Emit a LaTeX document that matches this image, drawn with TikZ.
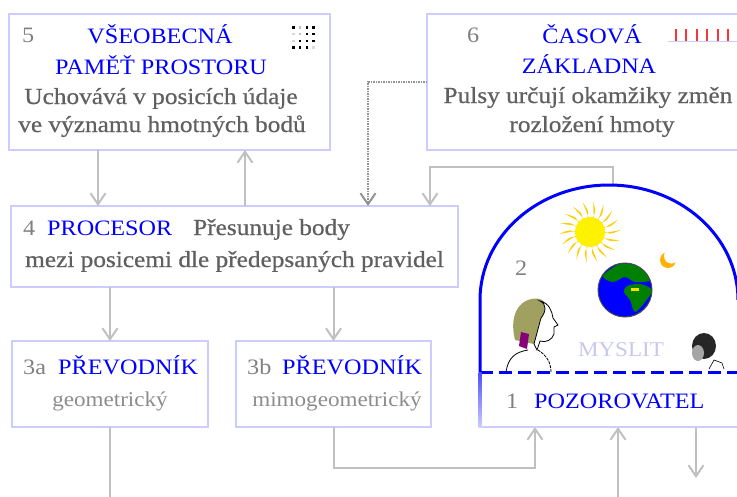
\documentclass[tikz,border=0pt]{standalone}
\usepackage{fontspec}
\setmainfont{Liberation Serif}[FakeStretch=1.1]
\newfontfamily\descfamily{Liberation Serif}[FakeStretch=1.1, FakeBold=0.6]
\usetikzlibrary{calc}
\usetikzlibrary{arrows.meta}
\definecolor{boxline}{HTML}{CCCCFF}
\definecolor{linkgray}{HTML}{C0C0C0}
\definecolor{numgray}{HTML}{808080}
\definecolor{descgray}{HTML}{606060}
\definecolor{subgray}{HTML}{8C8C8C}
\definecolor{thought}{HTML}{C8C8EE}
\definecolor{sunray}{HTML}{FFCC00}
\definecolor{hair}{HTML}{A0A060}
\newcommand\bigfont{\fontsize{22}{24}\selectfont}
\newcommand\descfont{\descfamily\fontsize{23}{25}\selectfont}
\newcommand\subfont{\fontsize{21}{23}\selectfont}

\tikzset{
  box/.style={draw=boxline, line width=2.5pt, anchor=north west, inner sep=0pt, outer sep=0pt},
  numtext/.style={text=numgray, font=\bigfont, inner sep=0pt},
  titletext/.style={text=blue, font=\bigfont, inner sep=0pt},
  desctext/.style={text=descgray, font=\descfont, inner sep=0pt},
  subtext/.style={text=subgray, font=\subfont, inner sep=0pt},
  link/.style={linkgray, line width=2pt, -{Straight Barb[length=11pt,width=15pt]}},
}

\begin{document}
\begin{tikzpicture}[x=1pt,y=-1pt]

\useasboundingbox (0,0) rectangle (737,496);
\clip (0,0) rectangle (737,496);

\node[box, minimum width=321pt, minimum height=136pt] (mem) at (9,14) {};
\node[box, minimum width=340pt, minimum height=136pt] (clock) at (427,14) {};
\node[box, minimum width=447pt, minimum height=81pt] (proc) at (11,206) {};
\node[box, minimum width=196pt, minimum height=86pt] (geo) at (12,341) {};
\node[box, minimum width=195pt, minimum height=86pt] (nongeo) at (236,341) {};
\node[anchor=north west, minimum width=300pt, minimum height=55pt, inner sep=0pt, outer sep=0pt] (obs) at (480,372) {};

\node[numtext, anchor=base west] (n5) at (22,42) {5};
\node[titletext, anchor=base] (t5a) at (160,43) {VŠEOBECNÁ};
\node[titletext, anchor=base] (t5b) at (161,74) {PAMĚŤ PROSTORU};
\node[desctext, anchor=base] (d5a) at (161,104) {Uchovává v posicích údaje};
\node[desctext, anchor=base] (d5b) at (162,132) {ve významu hmotných bodů};

\node[numtext, anchor=base west] (n6) at (467,42) {6};
\node[titletext, anchor=base] (t6a) at (592,43) {ČASOVÁ};
\node[titletext, anchor=base] (t6b) at (589,73) {ZÁKLADNA};
\node[desctext, anchor=base] (d6a) at (588,103) {Pulsy určují okamžiky změn};
\node[desctext, anchor=base] (d6b) at (592,132) {rozložení hmoty};

\node[numtext, anchor=base west] (n4) at (23,235) {4};
\node[titletext, anchor=base west] (t4) at (47,235) {PROCESOR};
\node[desctext, anchor=base west] (d4a) at (193,235) {Přesunuje body};
\node[desctext, anchor=base west] (d4b) at (25,267) {mezi posicemi dle předepsaných pravidel};

\node[numtext, anchor=base west] (n3a) at (23,374) {3a};
\node[titletext, anchor=base west] (t3a) at (58,374) {PŘEVODNÍK};
\node[subtext, anchor=base] (s3a) at (110,406) {geometrický};

\node[numtext, anchor=base west] (n3b) at (247,374) {3b};
\node[titletext, anchor=base west] (t3b) at (282,374) {PŘEVODNÍK};
\node[subtext, anchor=base] (s3b) at (337,406) {mimogeometrický};

\node[numtext, anchor=base west] (n1) at (506,408) {1};
\node[titletext, anchor=base west] (t1) at (534,408) {POZOROVATEL};
\node[numtext, anchor=base west] (n2) at (515,275) {2};
\node[text=thought, font=\subfont, inner sep=0pt, anchor=base] (think) at (621,356) {MYSLIT};

\foreach \i/\j/\col in {0/0/black,1/0/gray!50,2/0/black,3/0/black,
                        0/1/gray!30,1/1/gray!50,2/1/black,3/1/black,
                        0/2/gray!30,1/2/black,2/2/black,3/2/black,
                        0/3/black,1/3/black,2/3/black,3/3/gray!30}
  \fill[\col] (292.3+6.7*\i,26.1+6.7*\j) rectangle +(2.4,2.4);

\draw[boxline, line width=1.5pt] (668,41.5) -- (737,41.5);
\foreach \i in {0,...,5}
  \draw[red!80, line width=2pt] (675.7+10.5*\i,29) -- (675.7+10.5*\i,41);

\draw[link] (98,0 |- mem.south) -- (98,0 |- proc.north);
\draw[link] (245,0 |- proc.north) -- (245,0 |- mem.south);
\draw[link, draw=gray!85, dash pattern=on 1.5pt off 1pt] (clock.west) -| (368,0 |- proc.north);
\coordinate (dometop) at (613,185);
\draw[link] (dometop) -- (613,167) -| (430,0 |- proc.north);
\draw[link] (geo.north |- proc.south) -- (geo.north);
\draw[link] (nongeo.north |- proc.south) -- (nongeo.north);
\draw[linkgray, line width=2pt] (geo.south) -- (110,500);
\draw[link] (nongeo.south) |- (535,468) -- (535,0 |- obs.south);
\draw[link] (618,500) -- (618,0 |- obs.south);
\coordinate (out) at (696,478);
\draw[link] (696,0 |- obs.south) -- (out);

\draw[blue, line width=3pt] (obs.north west) -- (480,300) arc[start angle=180, end angle=360, x radius=129, y radius=115];
\draw[blue, line width=3pt, dash pattern=on 13pt off 6pt] (obs.north west) -- (obs.north east);
\shade[top color=blue!70, bottom color=boxline] (478.5,372) rectangle (481.5,427);
\draw[boxline, line width=2.5pt] (obs.south west) -- (obs.south east);

\coordinate (sun) at (590,232);
\foreach \a in {0,20,...,340}
  \fill[sunray] ($(sun)+(\a-8:12)$) .. controls ($(sun)+(\a+8:20)$) .. ($(sun)+(\a-4:31)$) -- ($(sun)+(\a+8:12)$) -- cycle;
\fill[yellow] (sun) circle[radius=15];

\coordinate (earth) at (625,290);
\fill[blue] (earth) circle[radius=27];
\begin{scope}
  \clip (earth) circle[radius=27];
  \fill[green!50!black] plot[smooth cycle] coordinates {($(earth)+(-22,-14)$) ($(earth)+(-5,-26)$) ($(earth)+(15,-23)$) ($(earth)+(26,-10)$) ($(earth)+(10,-8)$) ($(earth)+(0,-13)$) ($(earth)+(-12,-8)$)};
  \fill[green!50!black] plot[smooth cycle] coordinates {($(earth)+(2,-4)$) ($(earth)+(15,-6)$) ($(earth)+(27,0)$) ($(earth)+(20,12)$) ($(earth)+(10,22)$) ($(earth)+(5,10)$) ($(earth)+(-1,2)$)};
  \fill[yellow!80!orange] ($(earth)+(6,-2)$) rectangle +(8,3);
\end{scope}
\draw[black!70, line width=1pt] (earth) circle[radius=27];

\fill[orange!60!yellow] (668,260) circle[radius=8];
\fill[white] (671.5,256) circle[radius=7.5];

\fill[hair] (515,340) .. controls (508,312) and (522,296) .. (540,299) .. controls (548,302) and (548,312) .. (541,318) -- (534,344) -- cycle;
\fill[purple!70!blue] (521,332) -- (529,334) -- (527,349) -- (519,346) -- cycle;
\draw[black, fill=white, line width=0.8pt] (540,301) .. controls (549,303) and (552,311) .. (553,318) -- (558,325) -- (554,327) -- (554,334) .. controls (552,340) and (546,343) .. (540,341) -- (537,350) -- (534,344) -- (541,318) .. controls (546,312) and (547,304) .. cycle;
\draw[black, line width=0.8pt] (506,372) .. controls (508,358) and (515,352) .. (528,350);
\draw[black, line width=0.8pt, dash pattern=on 3pt off 1pt] (551,372) .. controls (551,362) and (546,355) .. (538,350);

\fill[black!85] (704,346) ellipse[x radius=12, y radius=13];
\fill[gray!70] (698,353) ellipse[x radius=6, y radius=8];
\draw[black, fill=white, line width=0.6pt] (709,369) -- (714,360) -- (722,363) -- (724,369);

\end{tikzpicture}
\end{document}
